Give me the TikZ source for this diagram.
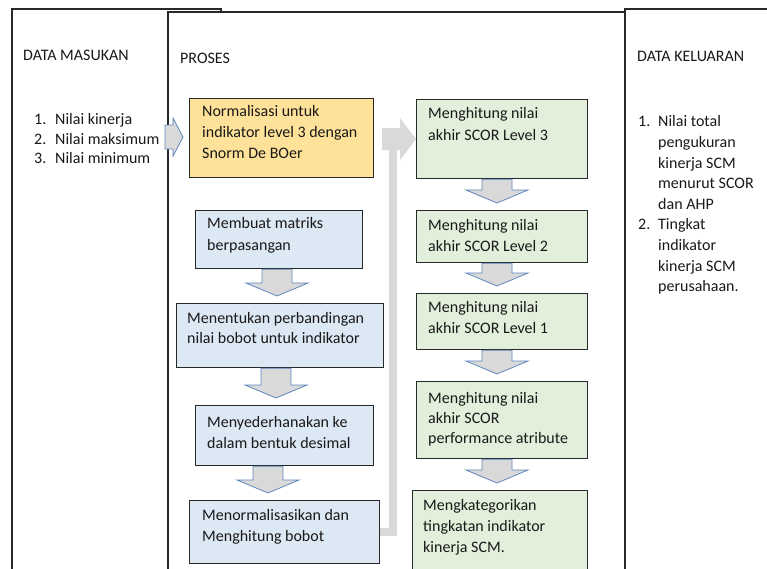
\documentclass[tikz,border=0pt]{standalone}
\usepackage{fontspec}
\setmainfont{Carlito}
\usetikzlibrary{calc}
\definecolor{yfill}{RGB}{255,226,153}
\definecolor{bfill}{RGB}{221,232,245}
\definecolor{gfill}{RGB}{226,239,218}
\definecolor{agray}{RGB}{217,217,217}
\definecolor{ablue}{RGB}{95,135,190}
\definecolor{edge}{RGB}{40,40,40}
\newcommand\ml[2][21pt]{\vtop{\baselineskip=#1\lineskiplimit=-100pt\lineskip=0pt #2}}
\newcommand\downarr[3]{%
  \path[blockarrow] let \p1=(#1.south), \p2=(#2.north) in
   (#3pt-15pt,\y1) -- (#3pt+15pt,\y1) -- (#3pt+15pt,\y2+20pt) -- (#3pt+31pt,\y2+20pt)
   -- (#3pt,\y2+7pt) -- (#3pt-31pt,\y2+20pt) -- (#3pt-15pt,\y2+20pt) -- cycle;}
\begin{document}
\begin{tikzpicture}[x=1pt,y=-1pt,
  outer/.style={draw=edge, line width=1.4pt, fill=white},
  box/.style={draw=edge, line width=1.2pt, inner sep=0pt, anchor=north west},
  ybox/.style={box, fill=yfill},
  bbox/.style={box, fill=bfill},
  gbox/.style={box, fill=gfill},
  txt/.style={anchor=base west, inner sep=0pt, font=\fontsize{16}{21}\selectfont, text=black!90},
  blockarrow/.style={fill=agray, draw=ablue, line width=0.8pt, line join=miter},
  elbow/.style={draw=agray, line width=8pt},
]
\useasboundingbox (0,0) rectangle (767,569);
\clip (0,0) rectangle (767,569);
% outer frames
\path[outer] (12,9) rectangle (221,620);
\path[outer] (168,12) rectangle (625,620);
\path[outer] (625,9) rectangle (800,620);
% boxes
\node[ybox, minimum width=184pt, minimum height=79pt] (norm) at (189,98) {};
\node[bbox, minimum width=167pt, minimum height=58pt] (matriks) at (195,210) {};
\node[bbox, minimum width=207pt, minimum height=64pt] (banding) at (176,303) {};
\node[bbox, minimum width=178pt, minimum height=60pt] (desimal) at (195,405) {};
\node[bbox, minimum width=190pt, minimum height=63pt] (bobot) at (189,500) {};
\node[gbox, minimum width=171pt, minimum height=79pt] (lv3) at (416,99) {};
\node[gbox, minimum width=171pt, minimum height=52pt] (lv2) at (416,210) {};
\node[gbox, minimum width=171pt, minimum height=56pt] (lv1) at (416,293) {};
\node[gbox, minimum width=171pt, minimum height=77pt] (perf) at (416,381) {};
\node[gbox, minimum width=175pt, minimum height=100pt] (kat) at (412,490) {};
% texts
\node[txt] (tmasuk) at (23,61) {DATA MASUKAN};
\node[txt] (tproses) at (180,64) {PROSES};
\node[txt] (tkeluar) at (637,62) {DATA KELUARAN};
\node[txt] (lmasuk) at (34,125) {\ml[19.5pt]{\hbox{\makebox[21pt][l]{1.}Nilai kinerja}\hbox{\makebox[21pt][l]{2.}Nilai maksimum}\hbox{\makebox[21pt][l]{3.}Nilai minimum}}};
\node[txt] (lkeluar) at (638,127) {\ml[20.6pt]{\hbox{\makebox[20pt][l]{1.}Nilai total}\hbox{\hspace{20pt}pengukuran}\hbox{\hspace{20pt}kinerja SCM}\hbox{\hspace{20pt}menurut SCOR}\hbox{\hspace{20pt}dan AHP}\hbox{\makebox[20pt][l]{2.}Tingkat}\hbox{\hspace{20pt}indikator}\hbox{\hspace{20pt}kinerja SCM}\hbox{\hspace{20pt}perusahaan.}}};
\node[txt] at (202,117) {\ml{\hbox{Normalisasi untuk}\hbox{indikator level 3 dengan}\hbox{Snorm De BOer}}};
\node[txt] at (207,229) {\ml{\hbox{Membuat matriks}\hbox{berpasangan}}};
\node[txt] at (187,323) {\ml[20.5pt]{\hbox{Menentukan perbandingan}\hbox{nilai bobot untuk indikator}}};
\node[txt] at (207,427) {\ml{\hbox{Menyederhanakan ke}\hbox{dalam bentuk desimal}}};
\node[txt] at (202,520) {\ml{\hbox{Menormalisasikan dan}\hbox{Menghitung bobot}}};
\node[txt] at (428,119) {\ml[22pt]{\hbox{Menghitung nilai}\hbox{akhir SCOR Level 3}}};
\node[txt] at (428,230) {\ml{\hbox{Menghitung nilai}\hbox{akhir SCOR Level 2}}};
\node[txt] at (428,312) {\ml{\hbox{Menghitung nilai}\hbox{akhir SCOR Level 1}}};
\node[txt] at (428,403) {\ml[20.3pt]{\hbox{Menghitung nilai}\hbox{akhir SCOR}\hbox{performance atribute}}};
\node[txt] at (423,510) {\ml[21pt]{\hbox{Mengkategorikan}\hbox{tingkatan indikator}\hbox{kinerja SCM.}}};
% down block arrows
\downarr{matriks}{banding}{277}
\downarr{banding}{desimal}{276}
\downarr{desimal}{bobot}{268}
\downarr{lv3}{lv2}{497}
\downarr{lv2}{lv1}{497}
\downarr{lv1}{perf}{497}
\downarr{perf}{kat}{497}
% input arrow
\coordinate (intip) at ($(norm.west)+(-6,-1)$);
\path[blockarrow] let \p1=(intip) in
  (165pt,\y1+12pt) -- (173pt,\y1+12pt) -- (173pt,\y1+19pt) -- (intip)
  -- (173pt,\y1-19pt) -- (173pt,\y1-12pt) -- (165pt,\y1-12pt) -- cycle;
% elbow connector to level 3
\coordinate (bend) at (393,150);
\draw[elbow] (bobot.east) -| (bend);
\fill[agray] let \p1=(lv3.west) in
  (382pt,\y1+11pt) -- (400pt,\y1+11pt) -- (400pt,\y1+21pt) -- (lv3.west)
  -- (400pt,\y1-21pt) -- (400pt,\y1-11pt) -- (382pt,\y1-11pt) -- cycle;
\end{tikzpicture}
\end{document}
